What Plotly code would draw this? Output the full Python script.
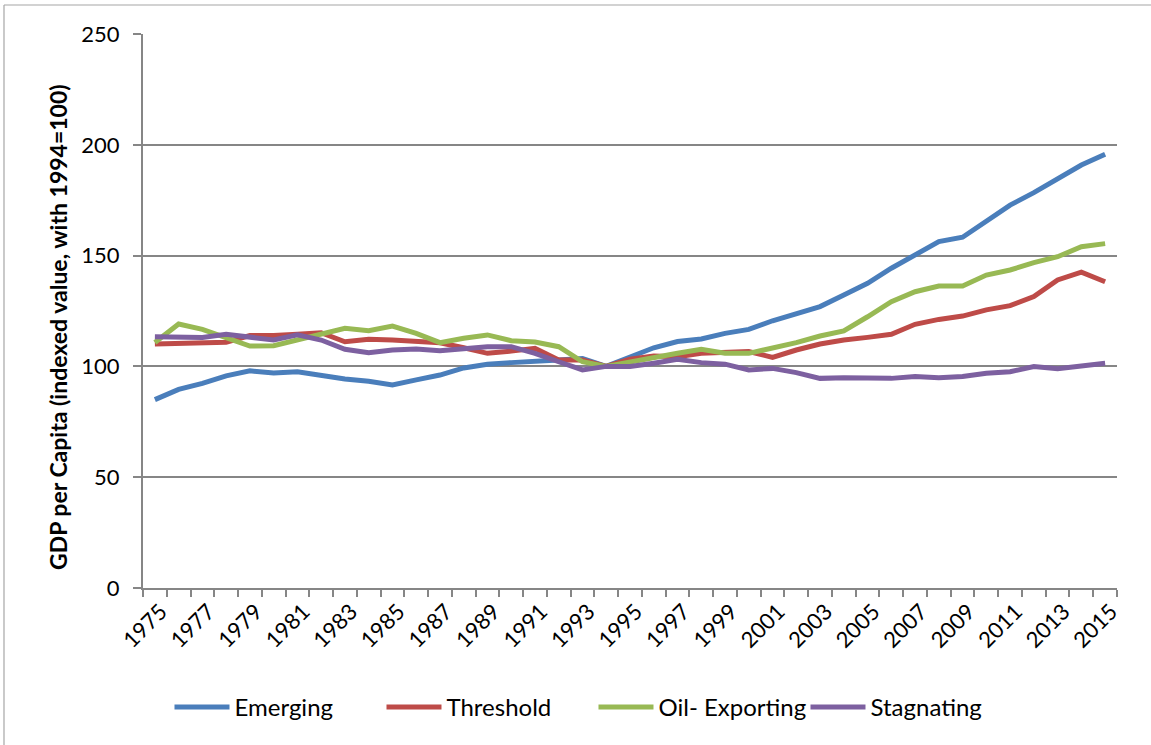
import plotly.graph_objects as go

years = list(range(1975, 2016))

emerging = [85, 89.6, 92.3, 95.7, 98, 97, 97.6, 95.7, 94.3, 93.3, 91.6, 93.9, 96.1, 99.3,
            101, 101.7, 102.4, 103, 103.5, 100, 104.4, 108.4, 111.2, 112.4, 114.9, 116.7,
            120.6, 124, 127, 132.2, 137.5, 144.3, 150.3, 156.3, 158.3, 165.8, 172.8, 178.4,
            184.9, 190.9, 195.7]
threshold = [110.1, 110.4, 110.7, 110.9, 113.9, 113.9, 114.5, 115.2, 111.1, 112.2, 111.9,
             111.1, 110.7, 108.4, 105.9, 106.9, 108.2, 102.9, 102.9, 100, 103.2, 104.7,
             104.4, 105.9, 106.4, 106.7, 104.1, 107.4, 110.1, 111.9, 113.1, 114.5, 119,
             121.2, 122.7, 125.5, 127.4, 131.5, 139, 142.5, 138.2]
oil_exporting = [110.8, 119.1, 116.7, 112.7, 109.2, 109.3, 111.9, 114.9, 117.2, 116.1, 118.2,
                 114.9, 110.7, 112.7, 114.2, 111.6, 111, 108.9, 102.1, 100, 102.1, 104.1,
                 105.9, 107.7, 105.9, 105.9, 108.2, 110.7, 113.7, 116, 122.4, 129.2, 133.7,
                 136.3, 136.3, 141.2, 143.5, 146.8, 149.5, 154, 155.4]
stagnating = [113.4, 113, 113, 114.5, 113.4, 111.9, 114.2, 111.9, 107.7, 106.2, 107.4, 107.9,
              107.1, 108.2, 108.9, 108.9, 105.9, 102.1, 98.4, 100, 100, 101.4, 103.2, 101.7,
              101, 98.4, 99.1, 97.2, 94.6, 94.9, 94.5, 94.6, 95.4, 94.9, 95.4, 96.9, 97.6,
              99.9, 99, 100.3, 101.4]

series_names = ["Emerging", "Threshold", "Oil- Exporting", "Stagnating"]
series_values = [emerging, threshold, oil_exporting, stagnating]
colors = ["#4A7EBB", "#BE4B48", "#98B954", "#7D60A0"]

y_tick_vals = [0, 50, 100, 150, 200, 250]
x_tick_vals = list(range(1975, 2016, 2))
x_tick_text = [str(v) for v in x_tick_vals]
y_title = "GDP per Capita (indexed value, with 1994=100)"

fig = go.Figure()
for name, vals, col in zip(series_names, series_values, colors):
    fig.add_trace(go.Scatter(x=years, y=vals, name=name, mode="lines",
                             line=dict(color=col, width=5)))

font = "Lato, 'Open Sans', sans-serif"
axis_col = "#868686"

W, H = 1151, 745
L, R, T, B = 143, 34, 34, 157
pw, ph = W - L - R, H - T - B

fig.update_layout(
    width=W, height=H,
    margin=dict(l=L, r=R, t=T, b=B),
    paper_bgcolor="white", plot_bgcolor="white",
    font=dict(family=font, size=22, color="black"),
    showlegend=True,
    legend=dict(orientation="h", x=0.0272, xanchor="left", y=-0.175, yanchor="top",
                font=dict(size=24, family=font), itemwidth=55, traceorder="normal",
                entrywidth=142, entrywidthmode="pixels"),
    xaxis=dict(
        range=[1974.5, 2015.5], tickmode="array", tickvals=x_tick_vals, ticktext=x_tick_text,
        tickangle=-45, ticks="", showgrid=False, showline=True, linecolor=axis_col,
        linewidth=2, zeroline=False, tickfont=dict(size=22), ticklabelshift=6,
        minor=dict(ticks="outside", tick0=1974.5, dtick=1, ticklen=7, tickcolor=axis_col,
                   tickwidth=1.5, showgrid=False),
    ),
    yaxis=dict(
        range=[0, 250], tickmode="array", tickvals=y_tick_vals, ticks="outside", ticklen=8,
        tickcolor=axis_col, tickwidth=1.5, showgrid=True, gridcolor=axis_col, gridwidth=1.5,
        showline=True, linecolor=axis_col, linewidth=2, zeroline=False,
        tickfont=dict(size=22), ticklabelstandoff=9,
    ),
)

fig.add_annotation(text="<b>" + y_title + "</b>", textangle=-90, xref="paper", yref="paper",
                   x=(58 - L) / pw, y=(H - B - 327) / ph, xanchor="center", yanchor="middle",
                   showarrow=False, font=dict(size=23, family=font, color="black"))

# outer chart frame (left and top edges)
fx = (4 - L) / pw
fy = (H - B - 5) / ph
fig.add_shape(type="line", xref="paper", yref="paper", x0=fx, x1=fx,
              y0=-0.4, y1=fy, line=dict(color="#A6A6A6", width=1.2))
fig.add_shape(type="line", xref="paper", yref="paper", x0=fx, x1=1.2,
              y0=fy, y1=fy, line=dict(color="#A6A6A6", width=1.2))

fig.write_html("out.html", config={"displayModeBar": False},
               post_script="document.body.style.margin='0';")
